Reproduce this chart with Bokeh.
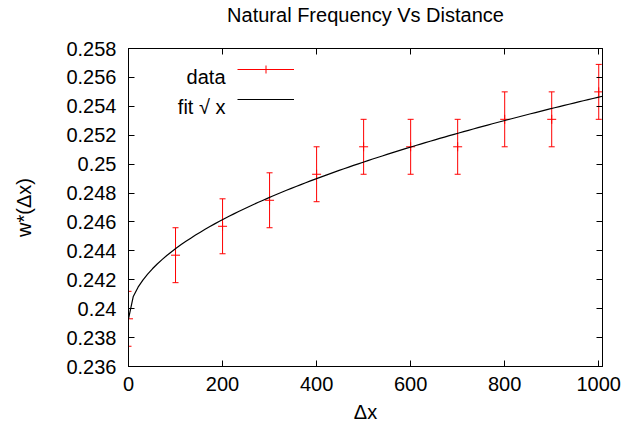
import numpy as np
from bokeh.plotting import figure
from bokeh.models import (FixedTicker, LinearAxis, Label, Legend, LegendItem,
                          ColumnDataSource, Range1d)
from bokeh.core.properties import value
from bokeh.embed import file_html
from bokeh.resources import INLINE

# ---------------- data ----------------
title_text = "Natural Frequency Vs Distance"
x_label_text = "Δx"
y_label_text = "w*(Δx)"
legend_data = "data"
legend_fit = "fit √ x"

dx = [0, 100, 200, 300, 400, 500, 600, 700, 800, 900, 1000]
w_star = [0.2393, 0.2437, 0.2457, 0.2475, 0.2493, 0.2512, 0.2512, 0.2512, 0.2531, 0.2531, 0.2550]
w_err = [0.0019, 0.0019, 0.0019, 0.0019, 0.0019, 0.0019, 0.0019, 0.0019, 0.0019, 0.0019, 0.0019]

# fitted model w = a + b*sqrt(dx), parameters
fit_a = 0.2393
fit_b = 0.000485
fit_samples = 100

x_ticks = [0, 200, 400, 600, 800, 1000]
x_tick_labels = ["0", "200", "400", "600", "800", "1000"]
y_ticks = [0.236, 0.238, 0.240, 0.242, 0.244, 0.246, 0.248, 0.250, 0.252, 0.254, 0.256, 0.258]
y_tick_labels = ["0.236", "0.238", "0.24", "0.242", "0.244", "0.246", "0.248", "0.25",
                 "0.252", "0.254", "0.256", "0.258"]
x_lim = (0, 1008)
y_lim = (0.236, 0.258)

FONT = "Liberation Sans"
FS = "20px"

# ---------------- figure ----------------
p = figure(width=622, height=427, output_backend="svg", toolbar_location=None,
           x_range=Range1d(*x_lim), y_range=Range1d(*y_lim),
           min_border_left=128, min_border_right=20, min_border_top=48, min_border_bottom=61)
p.grid.visible = False
p.outline_line_color = "black"
p.background_fill_color = "white"
p.border_fill_color = "white"

p.title.text = title_text
p.title.align = "center"
p.title.vertical_align = "top"
p.title.text_font = FONT
p.title.text_font_size = FS
p.title.text_font_style = "normal"
p.title.text_color = "black"
p.title.standoff = 4


def style_axis(ax, ticks, labels, show_labels, standoff):
    ax.ticker = FixedTicker(ticks=ticks)
    ax.major_label_overrides = {t: l for t, l in zip(ticks, labels)}
    ax.major_tick_in = 6
    ax.major_tick_out = 0
    ax.minor_tick_line_color = None
    ax.axis_line_color = "black"
    ax.major_tick_line_color = "black"
    ax.major_label_text_font = FONT
    ax.major_label_text_font_size = FS if show_labels else "2px"
    ax.major_label_text_color = "black" if show_labels else None
    ax.major_label_standoff = standoff


bottom_ax = p.xaxis[0]
left_ax = p.yaxis[0]
style_axis(bottom_ax, x_ticks, x_tick_labels, True, 10)
style_axis(left_ax, y_ticks, y_tick_labels, True, 12)
top_ax = LinearAxis()
right_ax = LinearAxis()
style_axis(top_ax, x_ticks, x_tick_labels, False, 0)
style_axis(right_ax, y_ticks, y_tick_labels, False, 0)
# blank spacer label on the mirrored top axis lifts the title to the top edge
top_ax.axis_label = " "
top_ax.axis_label_text_font_size = "10px"
top_ax.axis_label_standoff = 5
p.add_layout(top_ax, "above")
p.add_layout(right_ax, "right")

bottom_ax.axis_label = x_label_text
left_ax.axis_label = y_label_text
for ax, st in ((bottom_ax, 7), (left_ax, 28)):
    ax.axis_label_text_font = FONT
    ax.axis_label_text_font_size = FS
    ax.axis_label_text_font_style = "normal"
    ax.axis_label_text_color = "black"
    ax.axis_label_standoff = st

# ---------------- data marks ----------------
lo = [y - e for y, e in zip(w_star, w_err)]
hi = [y + e for y, e in zip(w_star, w_err)]
src = ColumnDataSource(dict(x=dx, y=w_star, lo=lo, hi=hi))
bars = p.segment(x0="x", y0="lo", x1="x", y1="hi", source=src, line_color="red", line_width=1)
p.scatter("x", "lo", marker="dash", size=6, line_color="red", line_width=1, source=src)
p.scatter("x", "hi", marker="dash", size=6, line_color="red", line_width=1, source=src)
pts = p.scatter("x", "y", marker="cross", size=9, line_color="red", line_width=1, source=src)

fit_x = np.linspace(x_lim[0], x_lim[1], fit_samples)
fit_y = fit_a + fit_b * np.sqrt(fit_x)
fit = p.line(fit_x, fit_y, line_color="black", line_width=1.2)

# ---------------- legend: keys via Legend, texts left of keys (gnuplot style) ----------------
legend = Legend(items=[LegendItem(label=value(" "), renderers=[bars, pts], index=0),
                       LegendItem(label=value(" "), renderers=[fit])],
                location=(109, 257), orientation="vertical", padding=0, margin=0,
                spacing=10, glyph_width=57, glyph_height=20, label_height=20,
                label_standoff=0, label_text_font=FONT, label_text_font_size="12px",
                border_line_color=None, background_fill_alpha=0)
p.add_layout(legend)


def lab(text, x, y):
    p.add_layout(Label(x=x, y=y, x_units="screen", y_units="screen", text=text,
                       text_align="right", text_baseline="alphabetic",
                       text_font=FONT, text_font_size=FS, text_color="black"))


lab(legend_data, 97, 290)
lab(legend_fit, 97, 260)

open("out.html", "w").write(file_html(p, INLINE))
